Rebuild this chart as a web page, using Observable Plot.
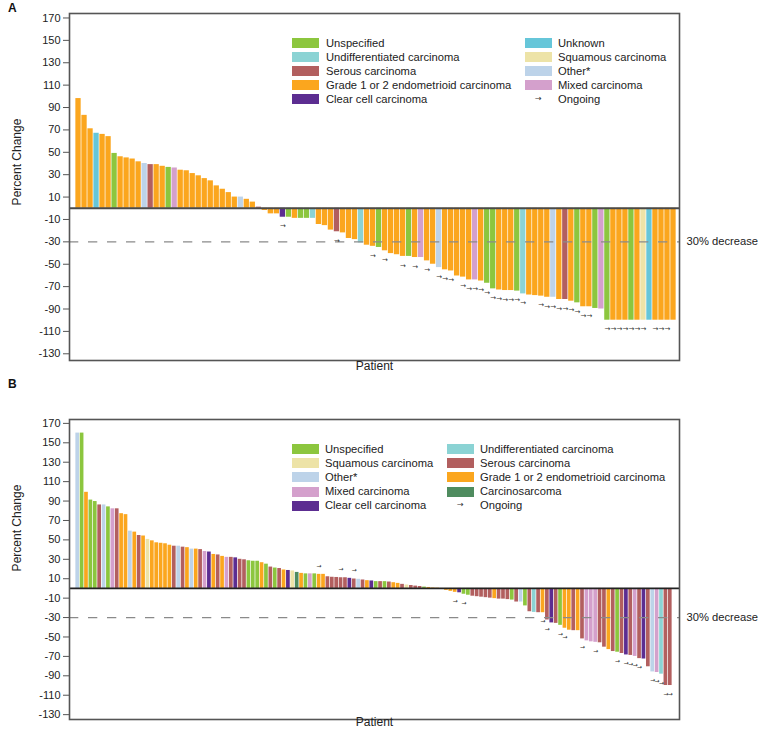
<!DOCTYPE html>
<html><head><meta charset="utf-8">
<script src="https://cdn.jsdelivr.net/npm/d3@7"></script>
<script src="https://cdn.jsdelivr.net/npm/@observablehq/plot@0.6"></script>
<style>
body{margin:0;background:#fff;font-family:"Liberation Sans",Arial,sans-serif;color:#222;}
#root{position:relative;width:758px;height:733px;overflow:hidden;background:#fff;}
.panel{position:absolute;left:0;}
.t{position:absolute;white-space:nowrap;font-size:11.2px;line-height:12px;color:#222;}
.sw{position:absolute;width:27px;height:10px;}
.arr{position:absolute;white-space:nowrap;font-family:"DejaVu Sans",sans-serif;font-size:8px;line-height:12px;color:#333;}
.ylab{position:absolute;width:140px;text-align:center;font-size:12px;line-height:14px;transform:rotate(-90deg);color:#222;}
.pl{position:absolute;font-weight:bold;font-size:12px;color:#111;}
</style></head>
<body><div id="root"></div>
<script>
// Category codes, names, colours
const codes = ["U","Und","S","G","CC","Unk","Sq","O","M","CS"];
const names = ["Unspecified","Undifferentiated carcinoma","Serous carcinoma","Grade 1 or 2 endometrioid carcinoma","Clear cell carcinoma","Unknown","Squamous carcinoma","Other*","Mixed carcinoma","Carcinosarcoma"];
const colors = ["#8cc63e","#8bd3d4","#b25f5f","#fba61e","#5c2d91","#66c6d9","#ede3a7","#bdd3e9","#d4a0cc","#4f8c5f"];
const yTicks = [170,150,130,110,90,70,50,30,10,-10,-30,-50,-70,-90,-110,-130];

// Panel A
const typesA = ["G","G","G","Unk","G","G","U","G","G","G",
"G","O","S","G","G","U","M","G","G","G",
"G","G","G","G","G","G","G","O","G","G",
"S","G","G","G","CC","U","G","U","U","Und",
"G","G","G","S","G","G","G","Und","G","G",
"U","G","G","G","G","U","G","M","G","G",
"O","G","G","G","G","G","M","G","U","U",
"G","G","G","U","Und","G","G","G","G","O",
"G","S","G","U","G","G","U","M","U","G",
"G","G","U","G","Sq","Unk","G","G","G","G"];
const valuesA = [98,83,71,67,66,64,49,46,45,44,
41.5,40,39,39,37.5,36.5,36,34,33.5,31,
29,26.5,24.5,20,17,14,10,10,8,5.5,
1,-2,-5,-5,-8,-8,-9,-9,-9,-9,
-14.5,-15.5,-19.5,-21,-22,-27,-28,-31,-33,-34,
-35,-38,-40.5,-41.5,-43,-43,-44,-44,-47,-50,
-53,-55,-56,-60.5,-61.5,-64,-64,-65,-67,-72,
-73,-73.5,-73.5,-74,-76.5,-77.5,-78,-78.5,-79.5,-79.5,
-81.5,-81.5,-83,-84.5,-88,-88,-89.5,-90,-100,-100,
-100,-100,-100,-100,-100,-100,-100,-100,-100,-100];
const ongoingA = [35,44,50,52,55,57,59,61,62,63,65,66,67,68,69,70,71,72,73,74,75,78,79,80,81,82,83,84,85,86,89,90,91,92,93,94,95,97,98,99];

// Panel B
const typesB = ["O","U","G","U","U","S","O","U","M","S",
"G","G","O","G","S","G","Sq","G","G","G",
"G","G","S","O","S","G","O","G","S","M",
"CC","G","S","G","M","S","CC","S","S","U",
"U","U","G","U","S","U","S","G","CC","Sq",
"CS","G","U","M","U","G","G","S","S","S",
"S","S","CC","S","O","S","G","CC","U","S",
"U","S","G","G","S","Sq","S","S","S","U",
"G","G","G","G","G","G","G","CC","U","U",
"S","S","S","S","S","G","S","S","S","U",
"S","O","U","S","Und","S","G","S","CC","S",
"U","G","G","S","G","S","M","M","M","S",
"S","G","S","U","S","CC","S","M","S","CC",
"S","O","M","Und","S","S"];
const valuesB = [160,160,99,91,89.5,86,86,84,82,82,
77,76,59,58,54.5,54,50.5,49,47,46.5,
46,44.5,43.5,43.5,42.5,42,40.5,40.5,40,38,
37.5,35,34.5,33,32,32,31.5,30,29.5,28.5,
28,28,26.5,25,22,21,20.5,19,18.5,18,
16.5,15.5,15,15,15,14.5,14.5,12,11.5,11.3,
11,11,10.4,9.7,9.4,8.7,8,7.7,7,7,
7,6.6,5.9,5.2,4.2,3.5,3,2.4,2,1.4,
1,0.5,0.3,-0.5,-2,-3,-4,-4.5,-6,-7,
-8,-8.5,-9,-9.5,-10,-10.5,-11,-11,-11.5,-12,
-14,-14,-18,-24,-24.7,-25,-25,-32.5,-35.5,-36,
-38,-41,-43,-43.5,-43.5,-52,-54,-55,-55.5,-56,
-60.5,-63,-65,-65.7,-67,-68.5,-69,-70,-72.3,-72.7,
-80.7,-86,-86.6,-88.3,-100,-100];
const ongoingB = [56,61,64,87,89,107,108,111,112,116,119,124,126,127,128,129,132,133,134,135,136];

// Legends
const legendA = [["U","Und","S","G","CC"],["Unk","Sq","O","M","ONG"]];
const legendB = [["U","Sq","O","M","CC"],["Und","S","G","CS","ONG"]];

const FONT = '"Liberation Sans", Arial, sans-serif';
const root = document.getElementById("root");

function makePanel(types, values, ongoing, cfg) {
  const data = types.map((t, i) => ({i, t, v: values[i]}));
  const ong = ongoing.map(n => data[n - 1]);
  const ongPos = ong.filter(d => d.v >= 0);
  const ongNeg = ong.filter(d => d.v < 0);
  const arrowOpts = (dy) => ({x: d => d.i + 0.5, y: "v", dy, text: () => "\u2192", fontSize: cfg.afs, fontFamily: '"DejaVu Sans", sans-serif', fill: "#333"});
  const chart = Plot.plot({
    width: 758, height: cfg.height,
    marginLeft: 69, marginRight: 79, marginTop: cfg.mt, marginBottom: cfg.mb,
    style: {fontFamily: FONT, fontSize: "11px", color: "#222", background: "transparent", overflow: "visible"},
    x: {domain: cfg.xdom, axis: null},
    y: {domain: cfg.ydom, axis: null},
    color: {domain: codes, range: colors},
    marks: [
      Plot.rectY(data, {x1: "i", x2: d => d.i + 1, y1: () => 0, y2: "v", fill: "t", insetLeft: 0.35, insetRight: 0.35}),
      Plot.ruleY([-30], {stroke: "#8a8a8a", strokeWidth: 1.3, strokeDasharray: "9.3,9.7"}),
      Plot.ruleY([0], {stroke: cfg.zeroColor, strokeWidth: 1.8}),
      Plot.text(ongPos, arrowOpts(-cfg.ady)),
      Plot.text(ongNeg, arrowOpts(cfg.ady)),
      Plot.axisY({ticks: yTicks, tickSize: 6, tickPadding: 3, tickFormat: d => String(d), stroke: "#555", label: null, fontSize: 11}),
      Plot.frame({stroke: "#555", strokeWidth: 1.6}),
      Plot.text([{y: -30, s: "30% decrease"}], {y: "y", text: "s", frameAnchor: "right", textAnchor: "start", dx: 7, fontSize: 11.2, fill: "#222"}),
      Plot.text(["Patient"], {text: d => d, frameAnchor: "bottom", dy: cfg.pdy, fontSize: 12, fill: "#222"})
    ]
  });
  chart.classList.add("panel");
  chart.style.top = cfg.top + "px";
  root.appendChild(chart);

  // legend
  cfg.legend.forEach((col, ci) => {
    col.forEach((code, ri) => {
      const cy = cfg.legY + ri * cfg.legPitch;
      if (code === "ONG") {
        const a = document.createElement("div");
        a.className = "arr";
        a.style.left = (cfg.legCols[ci][0] + 10) + "px";
        a.style.top = (cy - 6.5) + "px";
        a.textContent = "\u2192";
        root.appendChild(a);
      } else {
        const s = document.createElement("div");
        s.className = "sw";
        s.style.left = cfg.legCols[ci][0] + "px";
        s.style.top = (cy - 5) + "px";
        s.style.background = colors[codes.indexOf(code)];
        root.appendChild(s);
      }
      const t = document.createElement("div");
      t.className = "t";
      t.style.left = cfg.legCols[ci][1] + "px";
      t.style.top = (cy - 6.5) + "px";
      t.textContent = code === "ONG" ? "Ongoing" : names[codes.indexOf(code)];
      root.appendChild(t);
    });
  });

  const yl = document.createElement("div");
  yl.className = "ylab";
  yl.style.left = (17 - 70) + "px";
  yl.style.top = (cfg.ylabY - 7) + "px";
  yl.textContent = "Percent Change";
  root.appendChild(yl);

  const pl = document.createElement("div");
  pl.className = "pl";
  pl.style.left = "8px";
  pl.style.top = cfg.plY + "px";
  pl.textContent = cfg.name;
  root.appendChild(pl);
}

makePanel(typesA, valuesA, ongoingA, {
  top: 0, height: 380, mt: 13, mb: 20, xdom: [-1, 100.5], ydom: [-136, 174],
  zeroColor: "#4a4a4a", ady: 9, pdy: 9, afs: 7,
  legend: legendA, legCols: [[292, 326], [525, 558]], legY: 43.3, legPitch: 14,
  ylabY: 162, plY: 1, name: "A"
});
makePanel(typesB, valuesB, ongoingB, {
  top: 380, height: 353, mt: 39, mb: 14, xdom: [-1.37, 137.6], ydom: [-135, 174],
  zeroColor: "#222", ady: 8.6, pdy: 6, afs: 6,
  legend: legendB, legCols: [[292, 325], [447, 480]], legY: 449, legPitch: 14.2,
  ylabY: 528, plY: 377, name: "B"
});
</script>
</body></html>
